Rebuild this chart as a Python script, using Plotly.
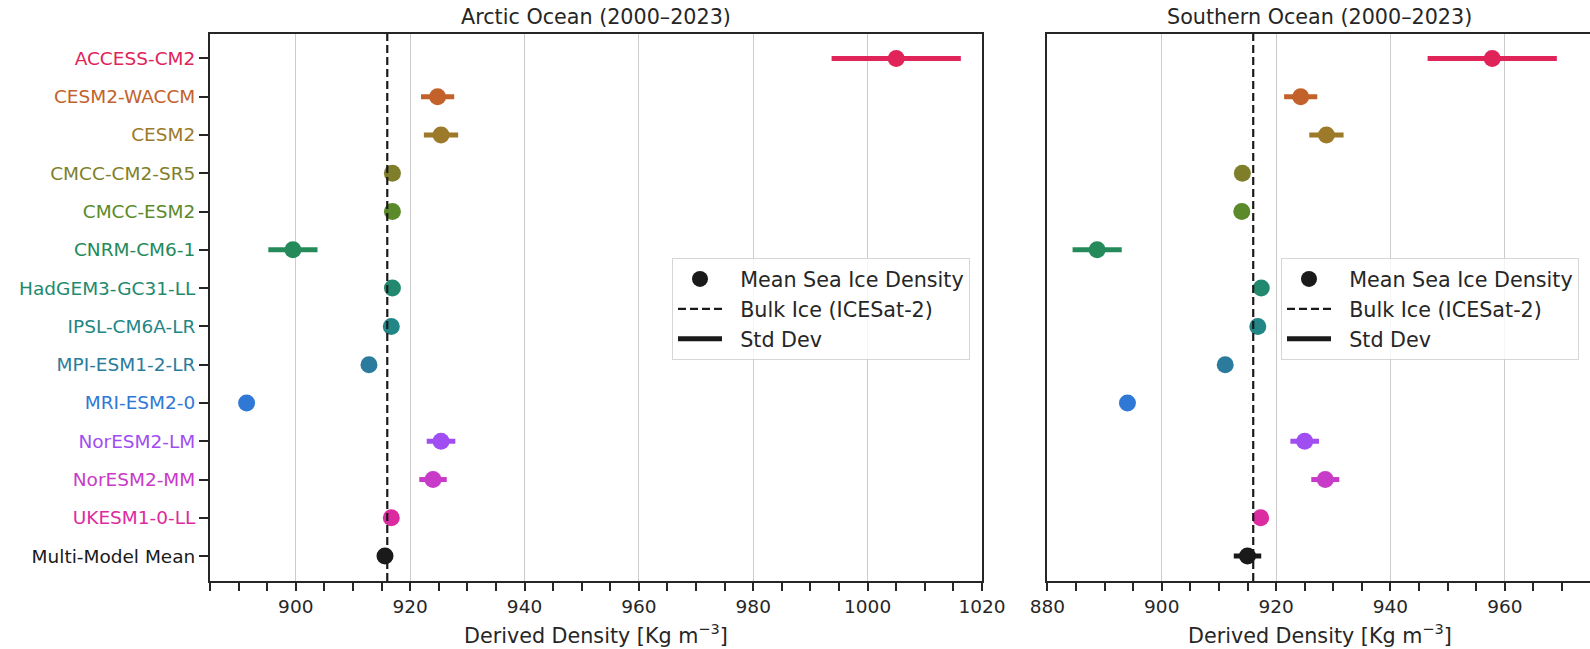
import plotly.graph_objects as go

models = ["ACCESS-CM2", "CESM2-WACCM", "CESM2", "CMCC-CM2-SR5", "CMCC-ESM2",
          "CNRM-CM6-1", "HadGEM3-GC31-LL", "IPSL-CM6A-LR", "MPI-ESM1-2-LR",
          "MRI-ESM2-0", "NorESM2-LM", "NorESM2-MM", "UKESM1-0-LL", "Multi-Model Mean"]
colors = ["#e0245a", "#c2622a", "#9c7a29", "#7f7f2b", "#5a8a29", "#248a5a",
          "#22896f", "#238686", "#2a7b9c", "#2f78d6", "#a04ef2", "#c83ac8",
          "#dc2aa0", "#1a1a1a"]

arctic_mean = [1005.0, 924.8, 925.4, 916.9, 916.9, 899.5, 916.9, 916.7, 912.8,
               891.4, 925.4, 924.0, 916.7, 915.6]
arctic_std = [11.3, 2.9, 3.0, 0.7, 0.8, 4.3, 0.6, 0.6, 0.5, 0.3, 2.5, 2.4, 0.5, 1.0]
south_mean = [957.8, 924.3, 928.8, 914.1, 914.0, 888.7, 917.4, 916.8, 911.1,
              894.0, 925.0, 928.6, 917.3, 915.0]
south_std = [11.3, 2.9, 3.0, 0.6, 0.7, 4.3, 0.5, 0.5, 0.4, 0.3, 2.5, 2.45, 0.5, 2.4]

bulk_ice = 916.0
titles = ["Arctic Ocean (2000–2023)", "Southern Ocean (2000–2023)"]
xlabel = "Derived Density [Kg m<sup>−3</sup>]"
legend_labels = ["Mean Sea Ice Density", "Bulk Ice (ICESat-2)", "Std Dev"]

W, H = 1590, 649
FONT = "DejaVu Sans"
TXT = "#262626"
BIG = 20.7
TICK = 18.5
PAD = "&nbsp;&nbsp;"

def px(x):
    return x / W

def py(y):
    return 1 - y / H

fig = go.Figure()

panels = [("x", "y", arctic_mean, arctic_std, "legend"),
          ("x2", "y2", south_mean, south_std, "legend2")]

for xa, ya, means, stds, leg in panels:
    for m, c, v, s in zip(models, colors, means, stds):
        fig.add_trace(go.Scatter(
            x=[v], y=[m], xaxis=xa, yaxis=ya, mode="markers",
            marker=dict(size=17, color=c, line=dict(width=0)),
            error_x=dict(type="data", array=[s], symmetric=True, color=c,
                         thickness=5, width=0),
            showlegend=False, hoverinfo="x+y"))
    # legend entries
    fig.add_trace(go.Scatter(x=[None], y=[None], xaxis=xa, yaxis=ya, mode="markers",
                             marker=dict(size=17, color="#1a1a1a"),
                             name=PAD + legend_labels[0], legend=leg))
    fig.add_trace(go.Scatter(x=[None], y=[None], xaxis=xa, yaxis=ya, mode="lines",
                             line=dict(color="#1a1a1a", width=2.2, dash="8px,4px"),
                             name=PAD + legend_labels[1], legend=leg))
    fig.add_trace(go.Scatter(x=[None], y=[None], xaxis=xa, yaxis=ya, mode="lines",
                             line=dict(color="#1a1a1a", width=5),
                             name=PAD + legend_labels[2], legend=leg))
    fig.add_shape(type="line", xref=xa, yref=ya + " domain", x0=bulk_ice, x1=bulk_ice,
                  y0=0, y1=1, line=dict(color="#1a1a1a", width=2.2, dash="8px,4px"))

ticktext = [f'<span style="color:{c}">{m}</span>' for m, c in zip(models, colors)]

xcommon = dict(showline=True, linecolor=TXT, linewidth=2, mirror=True,
               ticks="outside", ticklen=8, tickwidth=1.5, tickcolor=TXT,
               showgrid=True, gridcolor="#cccccc", gridwidth=1, zeroline=False,
               tickfont=dict(family=FONT, size=TICK, color=TXT),
               dtick=20, automargin=False,
               minor=dict(dtick=5, ticks="outside", ticklen=8, tickwidth=1.5,
                          tickcolor=TXT, showgrid=False))
ycommon = dict(showline=True, linecolor=TXT, linewidth=2,
               showgrid=False, zeroline=False, type="category",
               categoryorder="array", categoryarray=models,
               range=[13.65, -0.65], automargin=False)

legend_style = dict(xanchor="left", yanchor="top",
                    bgcolor="rgba(255,255,255,0.8)", bordercolor="#d6d6d6",
                    borderwidth=1, font=dict(family=FONT, size=BIG, color=TXT),
                    itemwidth=44, tracegroupgap=0)

fig.update_layout(
    width=W, height=H, margin=dict(l=0, r=0, t=0, b=0, autoexpand=False),
    paper_bgcolor="white", plot_bgcolor="white",
    font=dict(family=FONT, size=TICK, color=TXT),
    xaxis=dict(domain=[px(210), px(982)], range=[885, 1020], tick0=900, **xcommon),
    xaxis2=dict(domain=[px(1047.4), 1.0], range=[880, 974.9], tick0=880, **xcommon),
    yaxis=dict(domain=[py(581), py(33.5)], anchor="x", ticks="outside", ticklen=9,
               tickwidth=1.5, tickcolor=TXT, tickmode="array", tickvals=models,
               ticktext=ticktext, tickfont=dict(family=FONT, size=TICK),
               mirror=True, **ycommon),
    yaxis2=dict(domain=[py(581), py(33.5)], anchor="x2", showticklabels=False,
                ticks="", mirror=False, **ycommon),
    legend=dict(x=px(672), y=py(258), **legend_style),
    legend2=dict(x=px(1281), y=py(258), **legend_style),
    showlegend=True,
)

annots = [
    (596, 16.7, titles[0]),
    (1319.5, 16.7, titles[1]),
    (596, 634, xlabel),
    (1319.5, 634, xlabel),
]
for x, y, t in annots:
    fig.add_annotation(x=px(x), y=py(y), xref="paper", yref="paper", text=t,
                       showarrow=False, xanchor="center", yanchor="middle",
                       font=dict(family=FONT, size=BIG, color=TXT))

fig.write_html("out.html", config={"displayModeBar": False},
               post_script="document.body.style.margin='0';"
                           "document.body.style.overflow='hidden';")
